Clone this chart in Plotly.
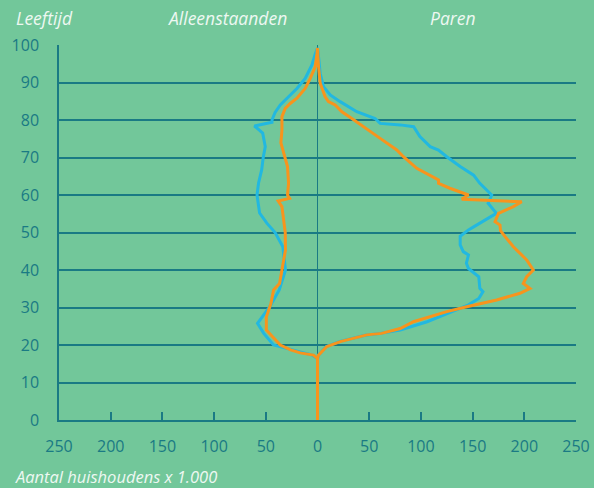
import plotly.graph_objects as go

# Leeftijd (age) and number of households x 1.000 -- blue series
blue_left_age = [0, 16.4, 17.3, 18.7, 19.3, 20, 23.1, 25.8, 30.3, 34.7, 40, 45.3, 46.2, 50, 52.5, 55.2,
                 60, 63.2, 66.7, 70, 72.9, 76.5, 78.4, 79.4, 80, 82, 84, 86.2, 88.4, 91.1, 94.7, 97.6, 99.2]
blue_left_val = [0, 0, 5, 26, 35, 42.5, 52, 58, 46, 37, 31, 33, 33.5, 41, 49, 56,
                 58.5, 57, 54, 52.5, 50.5, 53, 61, 44, 44, 41, 36, 28, 19.9, 11.9, 5.4, 2.2, 0]
blue_right_age = [99.2, 96.9, 92.4, 88.9, 86.7, 84.9, 82.2, 80.4, 79.1, 78.7, 78.2, 75.6, 72.9, 72, 70.2,
                  67.6, 65.3, 63.1, 60, 57.8, 55.1, 51.5, 50.7, 49, 46.7, 44.9, 44, 41.8, 40.4, 38.2,
                  35.1, 34.2, 32.4, 30.7, 28.4, 26.2, 24, 23.1, 22.6, 20.9, 19.6, 17.3, 16.4, 0]
blue_right_val = [0, 1, 2.6, 5.8, 12.3, 21.9, 38, 55.7, 60.6, 80, 93, 99, 109, 117, 125,
                  138, 151, 157, 168.5, 165, 173, 151, 146, 138, 138, 141, 146, 144, 146, 156,
                  157, 160, 156, 146, 125, 106, 80, 61, 46, 21, 8.5, 1, 0, 0]

# orange series
orange_left_age = [0, 16.4, 17.3, 17.9, 18.7, 20, 24, 27.5, 31.1, 34.7, 36.4, 40, 45.3, 50, 56.9, 58.4,
                   59.1, 60, 63.1, 67.6, 70, 73.9, 77.3, 80.9, 83.1, 84.4, 85.8, 88.4, 91.1, 94.2, 97.6, 99.2]
orange_left_val = [0, 0, 4, 16.7, 26, 36, 49.5, 49.5, 45, 42.5, 36.7, 34.5, 31, 31.2, 34.4, 38,
                   27, 29, 28, 29, 31.2, 35.4, 34.4, 34.4, 31.2, 26.4, 19.9, 11.9, 7, 2.2, 0.6, 0]
orange_right_age = [99.2, 94.2, 89.8, 86.2, 84.9, 84, 82.2, 80.4, 77.8, 75.1, 72, 70.2, 67.1, 65.3, 64,
                    63.1, 61.8, 60, 58.9, 58.2, 56.9, 55.1, 52.9, 52, 50.5, 48.9, 46.2, 44.9, 42.7,
                    40, 38.2, 36.4, 35.1, 33.8, 32, 30.2, 28.9, 26.2, 24.4, 23.1, 22.7, 20.9, 19.6,
                    17.3, 16.4, 0]
orange_right_val = [0, 1, 2.6, 7.4, 10.6, 17.1, 23.6, 33.2, 46.1, 60.6, 76.7, 83.1, 96, 109, 117,
                    117, 128, 146, 139.5, 197.5, 189.4, 175, 171.7, 176.5, 177, 181.4, 189.4, 194.2, 202.3,
                    208.7, 202.3, 199, 205.5, 195.8, 173.3, 144.3, 125, 92.8, 80, 62, 47.7, 22, 9,
                    1, 0, 0]

x_ticks = [-250, -200, -150, -100, -50, 0, 50, 100, 150, 200, 250]
x_tick_labels = ["250", "200", "150", "100", "50", "0", "50", "100", "150", "200", "250"]
y_ticks = [0, 10, 20, 30, 40, 50, 60, 70, 80, 90, 100]

BG = "#72C79A"
TEAL = "#1A7A84"
BLUE = "#22B8E0"
ORANGE = "#F7941D"
WHITE = "#EEF8F2"
FONT = "Open Sans"

fig = go.Figure()


def series(left_age, left_val, right_age, right_val, color):
    xs = [-v for v in left_val] + list(right_val)
    ys = list(left_age) + list(right_age)
    fig.add_trace(go.Scatter(x=xs, y=ys, mode="lines",
                             line=dict(color=color, width=3),
                             cliponaxis=False,
                             hoverinfo="skip", showlegend=False))


series(blue_left_age, blue_left_val, blue_right_age, blue_right_val, BLUE)
series(orange_left_age, orange_left_val, orange_right_age, orange_right_val, ORANGE)

fig.update_layout(
    width=594, height=488,
    paper_bgcolor=BG, plot_bgcolor=BG,
    margin=dict(l=58.5, r=18, t=45, b=68, pad=0, autoexpand=False),
    showlegend=False,
    font=dict(family=FONT, color=TEAL, size=16),
    xaxis=dict(range=[-250, 250], tickvals=x_ticks, ticktext=x_tick_labels,
               automargin=False,
               showgrid=False, zeroline=True, zerolinecolor=TEAL, zerolinewidth=1,
               showline=True, linecolor=TEAL, linewidth=1.5, layer="below traces",
               ticks="inside", ticklen=8, tickcolor=TEAL, tickwidth=1.5,
               ticklabelstandoff=11,
               tickfont=dict(family=FONT, size=16, color=TEAL), fixedrange=True),
    yaxis=dict(range=[0, 100], tickvals=y_ticks, automargin=False,
               showgrid=True, gridcolor=TEAL, gridwidth=1.5, layer="below traces",
               zeroline=False, showline=True, linecolor=TEAL, linewidth=1.5,
               ticks="", ticklabelstandoff=15,
               tickfont=dict(family=FONT, size=16, color=TEAL), fixedrange=True),
)


def px_to_paper_x(px):
    return (px - 58.5) / 517.5


def px_to_paper_y(py):
    return (420 - py) / 375


annots = [
    ("Leeftijd", 13, 18, "left", 17.5),
    ("Alleenstaanden", 227, 18, "center", 17.5),
    ("Paren", 453, 18, "center", 17.5),
    ("Aantal huishoudens x 1.000", 12, 477, "left", 16.5),
]
for text, px, py, anchor, size in annots:
    fig.add_annotation(text=text, x=px_to_paper_x(px), y=px_to_paper_y(py),
                       xref="paper", yref="paper", xanchor=anchor, yanchor="middle",
                       showarrow=False,
                       font=dict(family=FONT, size=size, color=WHITE, style="italic"))

fig.write_html("out.html",
               config={"displayModeBar": False},
               post_script="document.body.style.margin='0';document.body.style.padding='0';"
                           "document.body.style.overflow='hidden';"
                           "document.documentElement.style.overflow='hidden';")
